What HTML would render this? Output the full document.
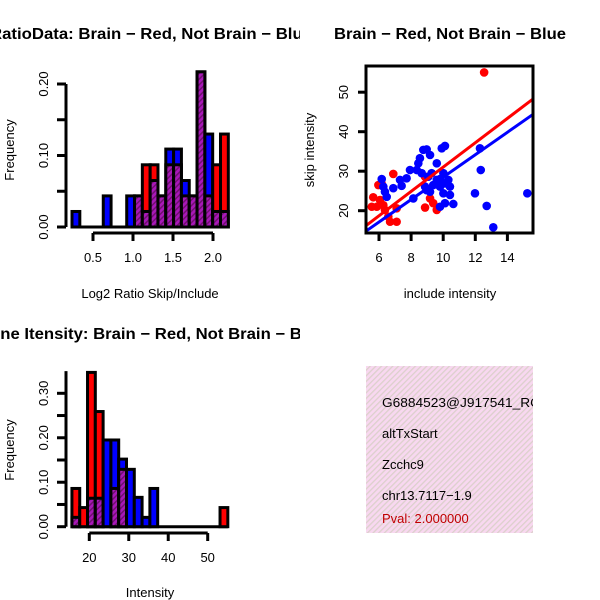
<!DOCTYPE html>
<html><head><meta charset="utf-8"><style>
html,body{margin:0;padding:0;background:#fff;}
svg{display:block;font-family:"Liberation Sans",Helvetica,Arial,sans-serif;}
</style></head><body>
<svg id="chart" width="600" height="600" viewBox="0 0 600 600" xmlns="http://www.w3.org/2000/svg">
<defs>
  <pattern id="purpleHatch" patternUnits="userSpaceOnUse" width="4" height="4" patternTransform="rotate(45)">
    <rect width="4" height="4" fill="#a818b8"/>
    <rect width="1.5" height="4" fill="#701070"/>
  </pattern>
  <pattern id="pinkHatch" patternUnits="userSpaceOnUse" width="4" height="4" patternTransform="rotate(45)">
    <rect width="4" height="4" fill="#f8d8f0"/>
    <rect width="1.3" height="4" fill="#dcd0cc"/>
  </pattern>
  <clipPath id="clipTL"><rect x="0" y="0" width="300" height="300"/></clipPath>
  <clipPath id="clipBL"><rect x="0" y="300" width="300" height="300"/></clipPath>
  <clipPath id="clipBR"><rect x="366" y="366" width="167" height="167"/></clipPath>
</defs>
<g id="tl"></g>
<g id="tr"></g>
<g id="bl"></g>
<g id="br">
  <rect x="366" y="366" width="167" height="167" fill="url(#pinkHatch)"/>
  <g clip-path="url(#clipBR)" font-size="13">
    <text x="382" y="407" fill="#000" textLength="158" lengthAdjust="spacingAndGlyphs">G6884523@J917541_RC</text>
    <text x="382" y="438" fill="#000">altTxStart</text>
    <text x="382" y="469" fill="#000">Zcchc9</text>
    <text x="382" y="500" fill="#000">chr13.7117−1.9</text>
    <text x="382" y="523" fill="#c00000">Pval: 2.000000</text>
  </g>
</g>
<script>
// ---- Top-left histogram data (bin index 0..19) ----
const ratioRed  = [0,0,0,0,0,0,0,0,0.0435,0.087,0.087,0.0435,0.087,0.087,0.0435,0.0435,0.217,0.0435,0.087,0.13];
const ratioBlue = [0.0217,0,0,0,0.0435,0,0,0.0435,0.0435,0.0217,0.065,0.0435,0.109,0.109,0.065,0.0435,0.217,0.13,0.0217,0.0217];
const ratioXTicks = [0.5,1.0,1.5,2.0];
const ratioXTickLabels = ["0.5","1.0","1.5","2.0"];
const ratioYTicks = [0,0.05,0.10,0.15,0.20];
const ratioYTickLabels = ["0.00","","0.10","","0.20"];
const ratioBinStart = 0.2375, ratioBinWidth = 0.0977;

// ---- Scatter data ----
const redX = [5.64,5.55,5.86,6.27,6.06,6.37,6.58,6.69,7.10,7.10,6.89,5.96,6.17,8.87,9.18,9.38,9.60,8.87,12.55];
const redY = [23.4,21.0,21.0,21.4,22.7,20.2,18.5,17.2,17.2,20.6,29.3,26.5,26.8,20.8,23.1,21.9,20.2,28.6,55.0];
const blueX = [6.17,6.37,6.48,6.27,6.89,7.31,7.41,7.72,7.93,8.14,8.35,8.45,8.55,8.76,8.97,9.18,9.28,8.87,8.97,9.18,9.60,9.80,9.91,10.11,10.01,10.11,10.01,10.32,10.42,10.42,9.80,10.11,10.63,11.98,12.29,12.34,12.71,13.12,15.24,9.38,9.60,9.80,8.66,9.07];
const blueY = [28.0,24.8,23.5,26.1,25.7,27.8,26.3,28.2,30.3,23.1,30.3,32.0,33.3,35.4,35.5,34.1,29.5,26.1,25.2,24.8,32.0,28.0,35.8,36.4,29.5,26.9,24.4,27.8,26.1,24.0,21.0,21.9,21.7,24.4,35.8,30.3,21.2,15.8,24.4,26.5,27.8,26.1,29.5,28.6];
const redLine = [5.25,16.4, 15.6,48.3];
const blueLine = [5.25,15.0, 15.6,44.4];
const scXTicks = [6,8,10,12,14];
const scYTicks = [20,30,40,50];

// ---- Bottom-left histogram ----
const intRed  = [0.086,0.043,0.347,0.259,0,0.086,0.129,0,0,0,0,0,0,0,0,0,0,0,0,0.043];
const intBlue = [0.021,0,0.064,0.064,0.195,0.195,0.152,0.129,0.066,0.021,0.086,0,0,0,0,0,0,0,0,0];
const intXTicks = [20,30,40,50];
const intYTicks = [0,0.05,0.10,0.15,0.20,0.25,0.30];
const intYTickLabels = ["0.00","","0.10","","0.20","","0.30"];
const intBinStart = 15.6, intBinWidth = 1.975;

const NS = "http://www.w3.org/2000/svg";
function mk(parent, tag, attrs, txt){
  const e = document.createElementNS(NS, tag);
  for (const k in attrs) e.setAttribute(k, attrs[k]);
  if (txt !== undefined) e.textContent = txt;
  parent.appendChild(e);
  return e;
}
function lin(d0,d1,r0,r1){ return v => r0 + (v-d0)/(d1-d0)*(r1-r0); }

function histogram(g, reds, blues, binStart, binWidth, xs, ys, xTicks, xLabels, yTicks, yLabels, yAxisTop, xAxisY){
  const base = mk(g,'line',{x1:xs(binStart),x2:xs(binStart+reds.length*binWidth),y1:ys(0),y2:ys(0),stroke:'#000','stroke-width':3});
  
  
  reds.forEach((r,i)=>{
    const b = blues[i];
    const x0 = xs(binStart + i*binWidth), x1 = xs(binStart + (i+1)*binWidth);
    const hi = Math.max(r,b), lo = Math.min(r,b);
    if (hi > 0){
      const el = mk(g,'rect',{x:x0,y:ys(hi),width:x1-x0,height:ys(0)-ys(hi),fill:r>=b?'#ff0000':'#0000ff',stroke:'#000','stroke-width':3});
      
      
    }
    if (lo > 0){
      const el = mk(g,'rect',{x:x0,y:ys(lo),width:x1-x0,height:ys(0)-ys(lo),fill:'url(#purpleHatch)',stroke:'#000','stroke-width':3});
      
      
    }
  });
  const ya = mk(g,'line',{x1:66,x2:66,y1:ys(0),y2:ys(yAxisTop),stroke:'#000','stroke-width':3});
  
  
  yTicks.forEach((t,i)=>{
    mk(g,'line',{x1:57,x2:66,y1:ys(t),y2:ys(t),stroke:'#000','stroke-width':3});
    if (yLabels[i]){
      const tx = mk(g,'text',{x:0,y:0,'font-size':13,'text-anchor':'middle',transform:`translate(48,${ys(t)}) rotate(-90)`}, yLabels[i]);
      
      
    }
  });
  const xa = mk(g,'line',{x1:xs(xTicks[0]),x2:xs(xTicks[xTicks.length-1]),y1:xAxisY,y2:xAxisY,stroke:'#000','stroke-width':3});
  
  
  xTicks.forEach((t,i)=>{
    mk(g,'line',{x1:xs(t),x2:xs(t),y1:xAxisY,y2:xAxisY+8,stroke:'#000','stroke-width':3});
    const tx = mk(g,'text',{x:xs(t),y:xAxisY+29,'font-size':13,'text-anchor':'middle'}, xLabels[i]);
    
    
  });
}

// Top-left
(function(){
  const g = document.getElementById('tl');
  const xs = lin(0.5,2.0,93,213);
  const ys = lin(0,0.20,227,84);
  const gc = mk(g,'g',{'clip-path':'url(#clipTL)'});
  histogram(gc, ratioRed, ratioBlue, ratioBinStart, ratioBinWidth, xs, ys, ratioXTicks, ratioXTickLabels, ratioYTicks, ratioYTickLabels, 0.20, 233);
  const t = mk(gc,'text',{x:-10,y:39,'font-size':15.5,'font-weight':'bold',textLength:322,lengthAdjust:'spacingAndGlyphs'},'RatioData: Brain − Red, Not Brain − Blue');
  
  
  const yl = mk(g,'text',{x:0,y:0,'font-size':13,'text-anchor':'middle',transform:'translate(14,150) rotate(-90)'},'Frequency');
  
  
  const xl = mk(g,'text',{x:150,y:298,'font-size':13,'text-anchor':'middle'},'Log2 Ratio Skip/Include');
  
  
})();

// Scatter
(function(){
  const g = document.getElementById('tr');
  const xs = lin(6,14,379,507.4);
  const ys = lin(20,50,210.7,92.2);
  mk(g,'defs',{}).innerHTML='<clipPath id="clipSc"><rect x="366" y="66" width="167" height="167"/></clipPath>';
  const pg = mk(g,'g',{'clip-path':'url(#clipSc)'});
  redX.forEach((x,i)=>{
    const c = mk(pg,'circle',{cx:xs(x),cy:ys(redY[i]),r:4.3,fill:'#ff0000'});
    
    
  });
  blueX.forEach((x,i)=>{
    const c = mk(pg,'circle',{cx:xs(x),cy:ys(blueY[i]),r:4.3,fill:'#0000ff'});
    
    
  });
  const rl = mk(pg,'line',{x1:xs(redLine[0]),y1:ys(redLine[1]),x2:xs(redLine[2]),y2:ys(redLine[3]),stroke:'#ff0000','stroke-width':3});
  
  
  const bl = mk(pg,'line',{x1:xs(blueLine[0]),y1:ys(blueLine[1]),x2:xs(blueLine[2]),y2:ys(blueLine[3]),stroke:'#0000ff','stroke-width':3});
  
  
  const box = mk(g,'rect',{x:366,y:66,width:167,height:167,fill:'none',stroke:'#000','stroke-width':3});
  
  
  scXTicks.forEach(t=>{
    mk(g,'line',{x1:xs(t),x2:xs(t),y1:233,y2:241,stroke:'#000','stroke-width':3});
    const tx = mk(g,'text',{x:xs(t),y:262,'font-size':13,'text-anchor':'middle'},String(t));
    
    
  });
  scYTicks.forEach(t=>{
    mk(g,'line',{x1:358,x2:366,y1:ys(t),y2:ys(t),stroke:'#000','stroke-width':3});
    const tx = mk(g,'text',{x:0,y:0,'font-size':13,'text-anchor':'middle',transform:`translate(348,${ys(t)}) rotate(-90)`},String(t));
    
    
  });
  const t = mk(g,'text',{x:334,y:39,'font-size':15.5,'font-weight':'bold',textLength:232,lengthAdjust:'spacingAndGlyphs'},'Brain − Red, Not Brain − Blue');
  
  
  const xl = mk(g,'text',{x:450,y:298,'font-size':13,'text-anchor':'middle'},'include intensity');
  
  
  const yl = mk(g,'text',{x:0,y:0,'font-size':13,'text-anchor':'middle',transform:'translate(314,150) rotate(-90)'},'skip intensity');
  
  
})();

// Bottom-left
(function(){
  const g = document.getElementById('bl');
  const xs = lin(20,50,89.3,207.7);
  const ys = lin(0,0.30,526.7,393.3);
  const gc = mk(g,'g',{'clip-path':'url(#clipBL)'});
  histogram(gc, intRed, intBlue, intBinStart, intBinWidth, xs, ys, intXTicks, intXTicks.map(String), intYTicks, intYTickLabels, 0.35, 533);
  const t = mk(gc,'text',{x:-22,y:339,'font-size':15.5,'font-weight':'bold',textLength:348,lengthAdjust:'spacingAndGlyphs'},'Gene Itensity: Brain − Red, Not Brain − Blue');
  
  
  const yl = mk(g,'text',{x:0,y:0,'font-size':13,'text-anchor':'middle',transform:'translate(14,450) rotate(-90)'},'Frequency');
  
  
  const xl = mk(g,'text',{x:150,y:597,'font-size':13,'text-anchor':'middle'},'Intensity');
  
  
})();
</script>
</svg>
</body></html>
